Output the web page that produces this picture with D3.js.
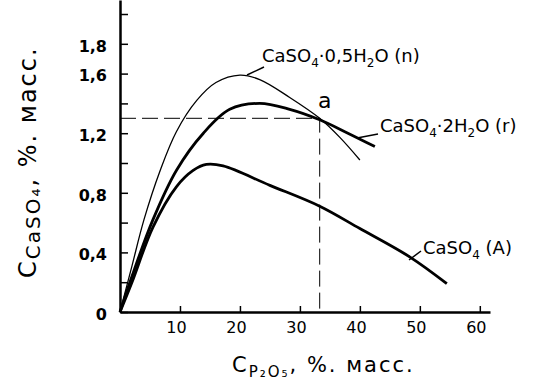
<!DOCTYPE html>
<html>
<head>
<meta charset="utf-8">
<script src="https://cdn.jsdelivr.net/npm/d3@7"></script>
<style>
  body { margin: 0; background: #fff; }
  svg { display: block; }
  text { font-family: "DejaVu Sans", sans-serif; fill: #000; }
</style>
</head>
<body>
<div id="chart"></div>
<script>
// Data (C_P2O5 %, C_CaSO4 %)
const xTicks = [10, 20, 30, 40, 50, 60];
const yTicks = [0, 0.2, 0.4, 0.6, 0.8, 1.0, 1.2, 1.4, 1.6, 1.8, 2.0];
const yTickLabels = { "0": "0", "0.4": "0,4", "0.8": "0,8", "1.2": "1,2", "1.6": "1,6", "1.8": "1,8" };

// CaSO4·0,5H2O (n) - thin line
const hemihydrate = [[0, 0], [2, 0.31], [4, 0.62], [6.7, 0.95], [9.4, 1.21], [12.8, 1.42], [16, 1.54],
  [20, 1.59], [23.3, 1.56], [28.3, 1.44], [33.3, 1.30], [36.7, 1.17], [40, 1.02]];
// CaSO4·2H2O (r) - thick line
const gypsum = [[0, 0], [2, 0.24], [5.5, 0.62], [9.4, 0.95], [13.9, 1.20], [18.3, 1.36], [23.3, 1.40],
  [28.3, 1.36], [33.3, 1.29], [38, 1.20], [42.5, 1.11]];
// CaSO4 (A) - thick line
const anhydrite = [[0, 0], [2, 0.2], [5.5, 0.57], [9.4, 0.84], [12.2, 0.95], [14.4, 0.99], [17.2, 0.98],
  [25, 0.85], [33.3, 0.71], [40, 0.56], [48.3, 0.37], [54.5, 0.19]];
// intersection point "a"
const pointA = [33.3, 1.30];

(function() {

const width = 551, height = 386;

const svg = d3.select("#chart")
    .append("svg")
    .attr("width", width)
    .attr("height", height);

// Scales
const x = d3.scaleLinear().domain([0, 61.7]).range([120, 490]);
const y = d3.scaleLinear().domain([0, 2.094]).range([312, 0]);

// Axes (ticks point inward)
const xAxis = svg.append("g")
    .attr("transform", `translate(0,${y(0)})`)
    .call(d3.axisBottom(x).tickValues(xTicks).tickSize(-6).tickSizeOuter(0).tickPadding(10));
xAxis.select(".domain").attr("stroke-width", 2.5);
xAxis.selectAll(".tick line").attr("stroke-width", 1.5);
xAxis.selectAll(".tick text")
    .attr("dx", -4)
    .style("font-size", "16px");

const yAxis = svg.append("g")
    .attr("transform", `translate(${x(0)},0)`)
    .call(d3.axisLeft(y).tickValues(yTicks).tickSize(-8).tickSizeOuter(0).tickPadding(13)
      .tickFormat(d => yTickLabels[String(+d.toFixed(1))] || ""));
yAxis.select(".domain").attr("stroke-width", 2.5);
yAxis.selectAll(".tick line").attr("stroke-width", 1.5);
yAxis.selectAll(".tick text")
    .attr("dy", "0.45em")
    .style("font-size", "16px")
    .style("font-weight", "bold");

// Dashed guides through point a
svg.append("path")
    .attr("d", `M${x(0)},${y(pointA[1])}H${x(pointA[0])}V${y(0)}`)
    .attr("fill", "none")
    .attr("stroke", "#000")
    .attr("stroke-width", 1)
    .attr("stroke-dasharray", "16,6");

// Curves
const line = d3.line()
    .x(d => x(d[0]))
    .y(d => y(d[1]))
    .curve(d3.curveCatmullRom.alpha(0.5));

svg.append("path").datum(hemihydrate)
    .attr("d", line).attr("fill", "none").attr("stroke", "#000").attr("stroke-width", 1.3);
svg.append("path").datum(gypsum)
    .attr("d", line).attr("fill", "none").attr("stroke", "#000").attr("stroke-width", 2.8);
svg.append("path").datum(anhydrite)
    .attr("d", line).attr("fill", "none").attr("stroke", "#000").attr("stroke-width", 2.8);

// Point label a
svg.append("text")
    .attr("x", x(pointA[0]) + 5)
    .attr("y", y(pointA[1]) - 10)
    .attr("text-anchor", "middle")
    .style("font-size", "22px")
    .text("a");

// Curve labels with leader lines
function curveLabel(tx, ty, parts, lx1, ly1, lx2, ly2) {
    svg.append("line")
        .attr("x1", lx1).attr("y1", ly1).attr("x2", lx2).attr("y2", ly2)
        .attr("stroke", "#000").attr("stroke-width", 1.5);
    const t = svg.append("text").attr("x", tx).attr("y", ty).style("font-size", "18px");
    parts.forEach(p => {
        const s = t.append("tspan").text(p.t);
        if (p.sub) s.style("font-size", "12px").attr("dy", 5);
        if (p.up) s.attr("dy", -5);
    });
}

curveLabel(262, 62, [{ t: "CaSO" }, { t: "4", sub: true }, { t: "·0,5H", up: true }, { t: "2", sub: true }, { t: "O (n)", up: true }],
    264, 67, 247, 75);
curveLabel(380, 132, [{ t: "CaSO" }, { t: "4", sub: true }, { t: "·2H", up: true }, { t: "2", sub: true }, { t: "O (r)", up: true }],
    378, 134, 357, 138);
curveLabel(423, 254, [{ t: "CaSO" }, { t: "4", sub: true }, { t: " (A)", up: true }],
    421, 251, 409, 260);

// X axis label
const xl = svg.append("text")
    .attr("x", 232)
    .attr("y", 372)
    .style("font-size", "21px")
    .style("letter-spacing", "2px");
xl.append("tspan").text("C");
xl.append("tspan").text("P₂O₅").style("font-size", "15px").attr("dy", 5);
xl.append("tspan").text(", %. масс.").attr("dy", -5);

// Y axis label
const yl = svg.append("text")
    .attr("transform", "translate(36,278) rotate(-90)")
    .style("font-size", "24px")
    .style("letter-spacing", "2px");
yl.append("tspan").text("C");
yl.append("tspan").text("CaSO₄").style("font-size", "20px").attr("dy", 4);
yl.append("tspan").text(", %. масс.").attr("dy", -4);

})();
</script>
</body>
</html>
